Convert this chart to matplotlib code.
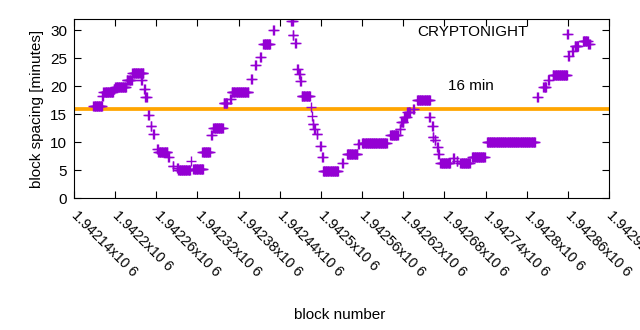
import numpy as np
import matplotlib
matplotlib.use('Agg')
import matplotlib.pyplot as plt
import matplotlib.transforms as mtransforms

plt.rcParams['font.family'] = ['Liberation Sans', 'DejaVu Sans']

# runs of equal block spacing: block offset from 1942000
run_start = [168, 181, 183, 198, 200, 217, 225, 238, 242, 244, 248, 252, 255, 261, 263, 277,
             284, 290, 292, 311, 314, 327, 340, 343, 358, 368, 370, 398, 404, 411, 416, 430,
             457, 459, 462, 465, 468, 470, 472, 486, 487, 488, 490, 494, 499, 502, 503, 531,
             538, 554, 560, 601, 615, 617, 621, 626, 634, 640, 658, 662, 663, 666, 669, 671,
             674, 693, 698, 703, 720, 742, 815, 824, 831, 838, 859, 860, 866, 870, 882, 890]
run_end = [181, 182, 197, 199, 216, 224, 241, 239, 243, 246, 249, 253, 256, 262, 276, 278,
           285, 291, 309, 311, 328, 338, 341, 357, 363, 369, 394, 399, 405, 412, 426, 431,
           459, 460, 463, 466, 469, 471, 484, 486, 487, 489, 491, 495, 500, 503, 525, 532,
           553, 555, 596, 612, 616, 620, 625, 630, 635, 659, 659, 663, 664, 667, 670, 672,
           688, 694, 699, 717, 739, 812, 816, 828, 832, 859, 860, 861, 867, 875, 889, 892]
run_value = [16.4, 18.3, 19.0, 19.5, 19.9, 21.1, 22.3, 21.1, 19.5, 18.0, 14.9, 12.8, 11.5, 8.7, 8.2, 7.3,
             5.7, 5.3, 5.0, 6.7, 5.1, 8.3, 11.2, 12.6, 17.0, 17.7, 19.0, 21.3, 23.8, 25.2, 27.5, 30.0,
             31.6, 29.2, 27.7, 23.0, 22.1, 20.9, 18.2, 16.2, 14.7, 13.3, 12.4, 11.5, 9.3, 7.3, 4.8, 6.2,
             7.8, 9.7, 9.9, 11.2, 12.4, 13.5, 14.5, 15.3, 16.0, 17.5, 14.4, 12.8, 10.9, 10.3, 9.2, 7.9,
             6.2, 7.2, 6.6, 6.2, 7.4, 10.0, 18.0, 19.9, 21.1, 22.0, 29.4, 25.4, 26.3, 27.1, 28.0, 27.6]

base = 1942000
target = 16
xticks = np.arange(1942140, 1942921, 60)
xtick_labels = ['%gx10 6' % (t / 1e6) for t in xticks]

blocks = []
spacing = []
for s, e, v in zip(run_start, run_end, run_value):
    b = np.arange(s, e + 1) + base
    blocks.extend(b)
    spacing.extend([v] * len(b))

fig = plt.figure(figsize=(6.4, 3.3), dpi=100)
ax = fig.add_axes([0.1156, 0.4, 0.836, 0.5424])

ax.axhline(target, color='#FFA500', lw=2.7, zorder=1)
ax.plot(blocks, spacing, '+', color='#9400D3', ms=6.5, mew=1.0, zorder=2)

ax.set_xlim(1942140, 1942920)
ax.set_ylim(0, 32)
ax.set_yticks(np.arange(0, 31, 5))
ax.set_xticks(xticks)
ax.set_xticklabels(xtick_labels, rotation=-45, ha='left', va='top',
                   rotation_mode='anchor', fontsize=10.3)
ax.tick_params(direction='in', top=True, right=True, length=5, labelsize=11, pad=7)
ax.tick_params(axis='x', labelsize=10.3)
ax.tick_params(axis='y', pad=5)

# nudge rotated tick labels a little right, like the reference
shift = mtransforms.ScaledTranslation(5 / 100, 0, fig.dpi_scale_trans)
for lab in ax.get_xticklabels():
    lab.set_transform(lab.get_transform() + shift)

ax.text(1942641, 29.6, 'CRYPTONIGHT', fontsize=11, va='center', ha='left')
ax.text(1942685, 20.0, '16 min', fontsize=11, va='center', ha='left')

ax.set_ylabel('block spacing [minutes]', fontsize=11)
fig.text(0.531, 1 - 315 / 330, 'block number', fontsize=11, ha='center', va='center')

fig.savefig('out.png', dpi=100)
